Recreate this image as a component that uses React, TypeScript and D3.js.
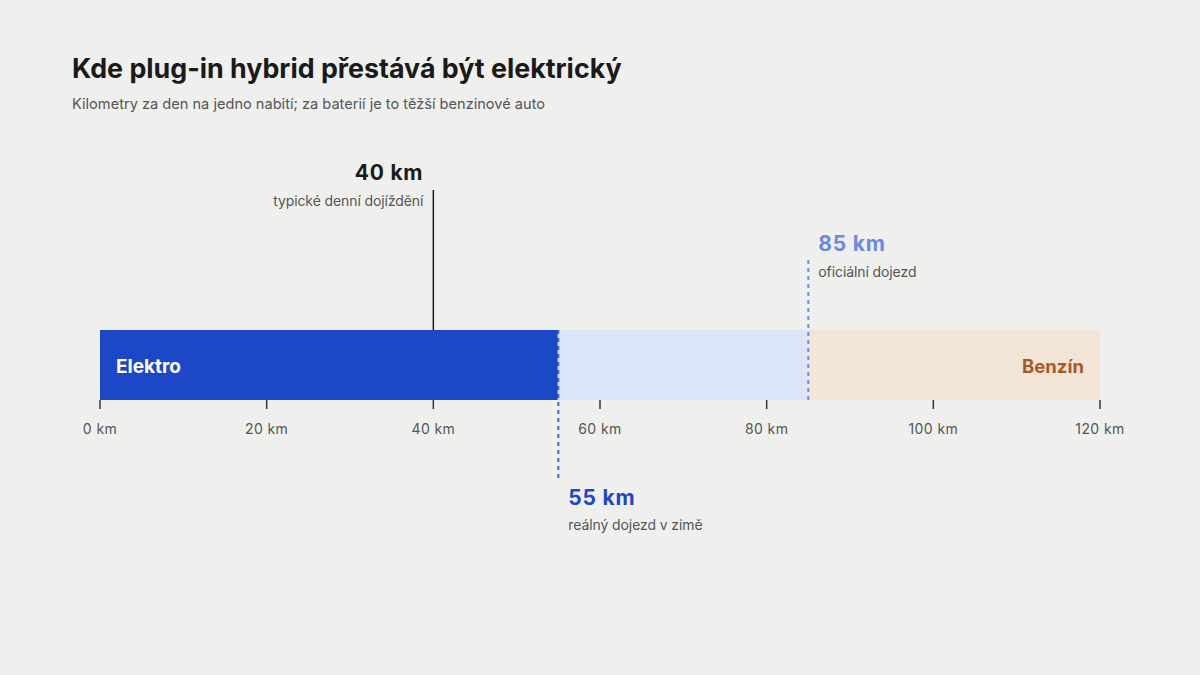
import React from 'react'
import * as d3 from 'd3'

const ticks = [0, 20, 40, 60, 80, 100, 120]
const segments = [
  { name: 'Elektro', from: 0, to: 55, fill: '#1c47c6' },
  { name: '', from: 55, to: 85, fill: '#dce4f7' },
  { name: 'Benzín', from: 85, to: 120, fill: '#f2e5d8' },
]
const markers = [
  { km: 40, label: '40 km', note: 'typické denní dojíždění', color: '#1a1a1a' },
  { km: 85, label: '85 km', note: 'oficiální dojezd', color: '#6b89e6' },
  { km: 55, label: '55 km', note: 'reálný dojezd v zimě', color: '#1c47c6' },
]

const App = () => {
  const width = 1200
  const height = 675
  const x = d3.scaleLinear().domain([0, 120]).range([100, 1100])
  const barTop = 330
  const barBottom = 400
  const font = 'Inter, "Noto Sans", sans-serif'

  return (
    <svg width={width} height={height} style={{ position: 'absolute', left: 0, top: 0, background: '#eff0ed', fontFamily: font }}>
      <rect width={width} height={height} fill="#eff0ed" />
      <text x={72} y={78} fontSize={26.8} fontWeight={700} fill="#1a1a1a">
        Kde plug-in hybrid přestává být elektrický
      </text>
      <text x={72} y={109} fontSize={14.6} fill="#555">
        Kilometry za den na jedno nabití; za baterií je to těžší benzinové auto
      </text>

      {segments.map((s, i) => (
        <rect key={i} x={x(s.from)} y={barTop} width={x(s.to) - x(s.from)} height={barBottom - barTop} fill={s.fill} />
      ))}
      <text x={x(0) + 16} y={373} fontSize={19} fontWeight={700} fill="#fff">Elektro</text>
      <text x={x(120) - 16} y={373} fontSize={18.5} fontWeight={700} fill="#a85a1f" textAnchor="end">Benzín</text>

      {ticks.map(t => (
        <g key={t}>
          <line x1={x(t)} x2={x(t)} y1={barBottom} y2={barBottom + 9} stroke="#333" strokeWidth={1.5} />
          <text x={x(t)} y={434} fontSize={14} fill="#555" textAnchor="middle" letterSpacing={0.4}>{t} km</text>
        </g>
      ))}

      {/* 40 km */}
      <line x1={x(40)} x2={x(40)} y1={190} y2={barTop} stroke="#1a1a1a" strokeWidth={1.5} />
      <text x={x(40) - 10} y={180} fontSize={21} fontWeight={700} fill={markers[0].color} textAnchor="end" letterSpacing={0.8}>{markers[0].label}</text>
      <text x={x(40) - 10} y={206} fontSize={14} fill="#555" textAnchor="end" letterSpacing={-0.1}>{markers[0].note}</text>

      {/* 85 km */}
      <line x1={x(85)} x2={x(85)} y1={260} y2={barBottom} stroke={markers[1].color} strokeWidth={2} strokeDasharray="4,4" />
      <text x={x(85) + 10} y={251} fontSize={21} fontWeight={700} fill={markers[1].color} letterSpacing={0.8}>{markers[1].label}</text>
      <text x={x(85) + 10} y={277} fontSize={14} fill="#555" letterSpacing={-0.1}>{markers[1].note}</text>

      {/* 55 km */}
      <line x1={x(55)} x2={x(55)} y1={barTop} y2={478} stroke="#3a62d8" strokeWidth={2} strokeDasharray="4,4" />
      <line x1={x(55)} x2={x(55)} y1={barTop} y2={barBottom} stroke="#c9d5f5" strokeWidth={2} strokeDasharray="4,4" strokeDashoffset={4} opacity={0.6} />
      <text x={x(55) + 10} y={505} fontSize={21} fontWeight={700} fill={markers[2].color} letterSpacing={0.8}>{markers[2].label}</text>
      <text x={x(55) + 10} y={530} fontSize={14} fill="#555" letterSpacing={-0.1}>{markers[2].note}</text>
    </svg>
  )
}

export default App
